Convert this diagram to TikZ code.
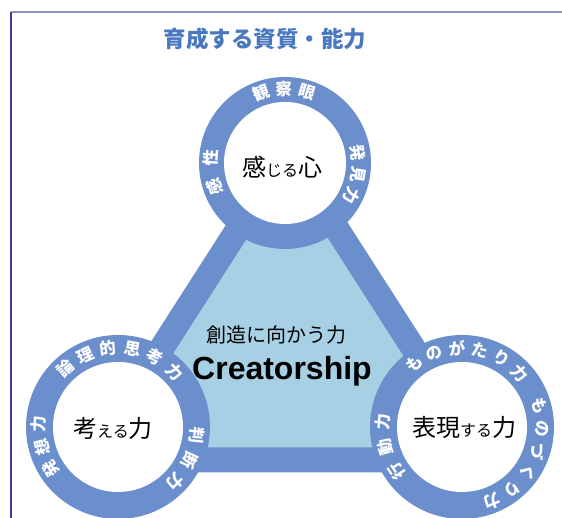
\documentclass[tikz,border=0pt]{standalone}
\usepackage{fontspec}
\setmainfont{Liberation Sans}
\newfontfamily\jp{Noto Sans CJK JP}
\definecolor{band}{RGB}{107,143,204}
\definecolor{fillb}{RGB}{168,208,229}
\definecolor{ttl}{RGB}{74,120,192}
\definecolor{framea}{RGB}{140,145,200}
\definecolor{frameb}{RGB}{60,60,150}
\newcommand\ringtext[6]{%
  \foreach \ch [count=\i from 0] in {#6} {%
    \pgfmathsetmacro\ang{#3+\i*(#4)}%
    \path (#1) ++(\ang:#2) node[ringtxt, rotate=\ang-90] (#5\i) {\ch};
  }}
\begin{document}
\begin{tikzpicture}[x=1pt,y=1pt,
  ringtxt/.style={text=white,font=\jp\bfseries\fontsize{16.5}{16.5}\selectfont,inner sep=-1.5pt},
  ring/.style={fill=band},
  hole/.style={fill=white},
  biglbl/.style={font=\jp\fontsize{24}{24}\selectfont,text=black,inner sep=0pt}]
\useasboundingbox (0,0) rectangle (562,518);
\fill[white] (0,0) rectangle (562,518);
\draw[framea,line width=1.5] (11,506) -- (562,506);
\draw[frameb,line width=1.5] (11,0) -- (11,506);

\coordinate (T) at (285,355);
\coordinate (L) at (118,91);
\coordinate (R) at (462,91);
\coordinate (v1) at (90,58);
\coordinate (v2) at (485,58);
\coordinate (v3) at (287.5,366);

\filldraw[fill=fillb,draw=band,line width=25,line join=round] (v1) -- (v2) -- (v3) -- cycle;

\fill[ring] (T) circle (86);
\fill[hole] (T) circle (61);
\fill[ring] (L) circle (92);
\fill[hole] (L) circle (65);
\fill[ring] (R) circle (92);
\fill[hole] (R) circle (65);

\node[font=\jp\bfseries\fontsize{22.5}{22.5}\selectfont,text=ttl] (title) at (265,479) {育成する資質・能力};

\ringtext{T}{74}{109}{-18}{ta}{観,察,眼}
\ringtext{T}{74}{8}{-17}{tb}{発,見,力}
\ringtext{T}{74}{199}{-23}{tc}{感,性}

\ringtext{L}{79}{132}{-17.5}{la}{論,理,的,思,考,力}
\ringtext{L}{79}{212}{-17}{lb}{発,想,力}
\ringtext{L}{79}{-6}{-19}{lc}{判,断,力}

\ringtext{R}{79}{127}{-16.8}{ra}{も,の,が,た,り,力}
\ringtext{R}{80}{15}{-16.5}{rb}{も,の,づ,く,り,力}
\ringtext{R}{79}{214}{-19}{rc}{行,動,力}

\node[biglbl] (kokoro) at (282,351) {感{\fontsize{16}{16}\selectfont じる}心};
\node[biglbl] (kangaeru) at (113,90) {考{\fontsize{16}{16}\selectfont える}力};
\node[biglbl] (hyogen) at (464,91) {表現{\fontsize{16}{16}\selectfont する}力};

\node[font=\jp\fontsize{20}{20}\selectfont] (sozo) at (276,183) {創造に向かう力};
\node[font=\bfseries\fontsize{32}{32}\selectfont,anchor=base] (creator) at (282,138) {Creatorship};
\end{tikzpicture}
\end{document}
